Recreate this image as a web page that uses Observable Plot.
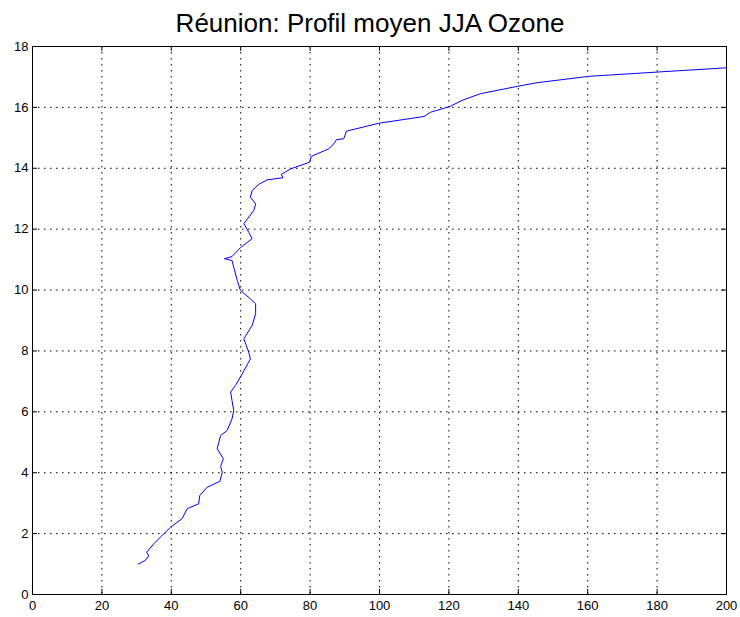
<!DOCTYPE html>
<html>
<head>
<meta charset="utf-8">
<script src="https://cdn.jsdelivr.net/npm/d3@7"></script>
<script src="https://cdn.jsdelivr.net/npm/@observablehq/plot@0.6"></script>
<style>
  html, body { margin: 0; padding: 0; background: #fff; }
  #title { height: 36px; width: 740px; text-align: center; font-family: "Liberation Sans", Arial, sans-serif; font-size: 26px; line-height: 46px; color: #000; white-space: nowrap; }
  svg { display: block; }
</style>
</head>
<body>
<div id="title">Réunion: Profil moyen JJA Ozone</div>
<div id="chart"></div>
<script>
const ozone = [30.5,32.5,33.5,32.9,35,37.8,39.8,43.1,44.6,47.9,48.2,50.3,54,54.7,54.2,55,53.2,53.7,54.2,56.1,57.5,58,57.5,57.1,58.5,59.9,62.8,62.3,60.9,63.3,64.3,64.3,62.8,59.9,59,58,57.5,55.3,57.5,59.9,63.3,62.3,60.9,63.8,64.3,62.8,63.3,65.2,67.6,72.2,71.7,74.4,79.9,80.3,85.4,87,87.6,89.7,90.5,99.8,112.8,114.7,120.3,123.8,129.1,139.7,145.4,160.3,180,200];
const altitude = [1.0,1.12,1.27,1.39,1.67,1.99,2.21,2.49,2.82,2.98,3.25,3.52,3.72,4.02,4.2,4.46,4.79,5.0,5.22,5.39,5.77,6.04,6.37,6.65,6.87,7.14,7.74,7.96,8.4,8.84,9.22,9.55,9.71,9.99,10.32,10.75,10.97,11.03,11.1,11.39,11.69,11.9,12.18,12.62,12.83,13.05,13.27,13.47,13.62,13.69,13.8,13.98,14.2,14.39,14.64,14.83,14.94,14.97,15.22,15.48,15.7,15.84,16.03,16.23,16.45,16.69,16.81,17.02,17.16,17.3];
const xTicks = [0,20,40,60,80,100,120,140,160,180,200];
const yTicks = [0,2,4,6,8,10,12,14,16,18];

const data = ozone.map((v, i) => ({ozone: v, alt: altitude[i]}));
const W = 740, H = 581, mt = 10, mb = 23, ml = 32, mr = 14;
const fh = H - mt - mb, fw = W - ml - mr;
const tick = 5;

const chart = Plot.plot({
  width: W, height: H,
  marginTop: mt, marginBottom: mb, marginLeft: ml, marginRight: mr,
  style: {fontFamily: "'Liberation Sans', Arial, sans-serif", fontSize: "13px", color: "#000", background: "#fff"},
  x: {domain: [0, 200], ticks: xTicks},
  y: {domain: [0, 18], ticks: yTicks},
  marks: [
    Plot.gridX(xTicks.slice(1, -1), {stroke: "#000", strokeOpacity: 1, strokeDasharray: "1.5,4.5", strokeWidth: 1}),
    Plot.gridY(yTicks.slice(1, -1), {stroke: "#000", strokeOpacity: 1, strokeDasharray: "1.5,4.5", strokeWidth: 1}),
    Plot.ruleX(xTicks, {x: d => d, insetTop: fh - tick, stroke: "#000"}),
    Plot.ruleX(xTicks, {x: d => d, insetBottom: fh - tick, stroke: "#000"}),
    Plot.ruleY(yTicks, {y: d => d, insetRight: fw - tick, stroke: "#000"}),
    Plot.ruleY(yTicks, {y: d => d, insetLeft: fw - tick, stroke: "#000"}),
    Plot.frame({stroke: "#000", strokeWidth: 1}),
    Plot.axisX(xTicks, {tickSize: 0, tickPadding: 6, label: null, fontSize: 13}),
    Plot.axisY(yTicks, {tickSize: 0, tickPadding: 4, label: null, fontSize: 13}),
    Plot.line(data, {x: "ozone", y: "alt", stroke: "#0000ff", strokeWidth: 1})
  ]
});
document.getElementById("chart").appendChild(chart);
</script>
</body>
</html>
